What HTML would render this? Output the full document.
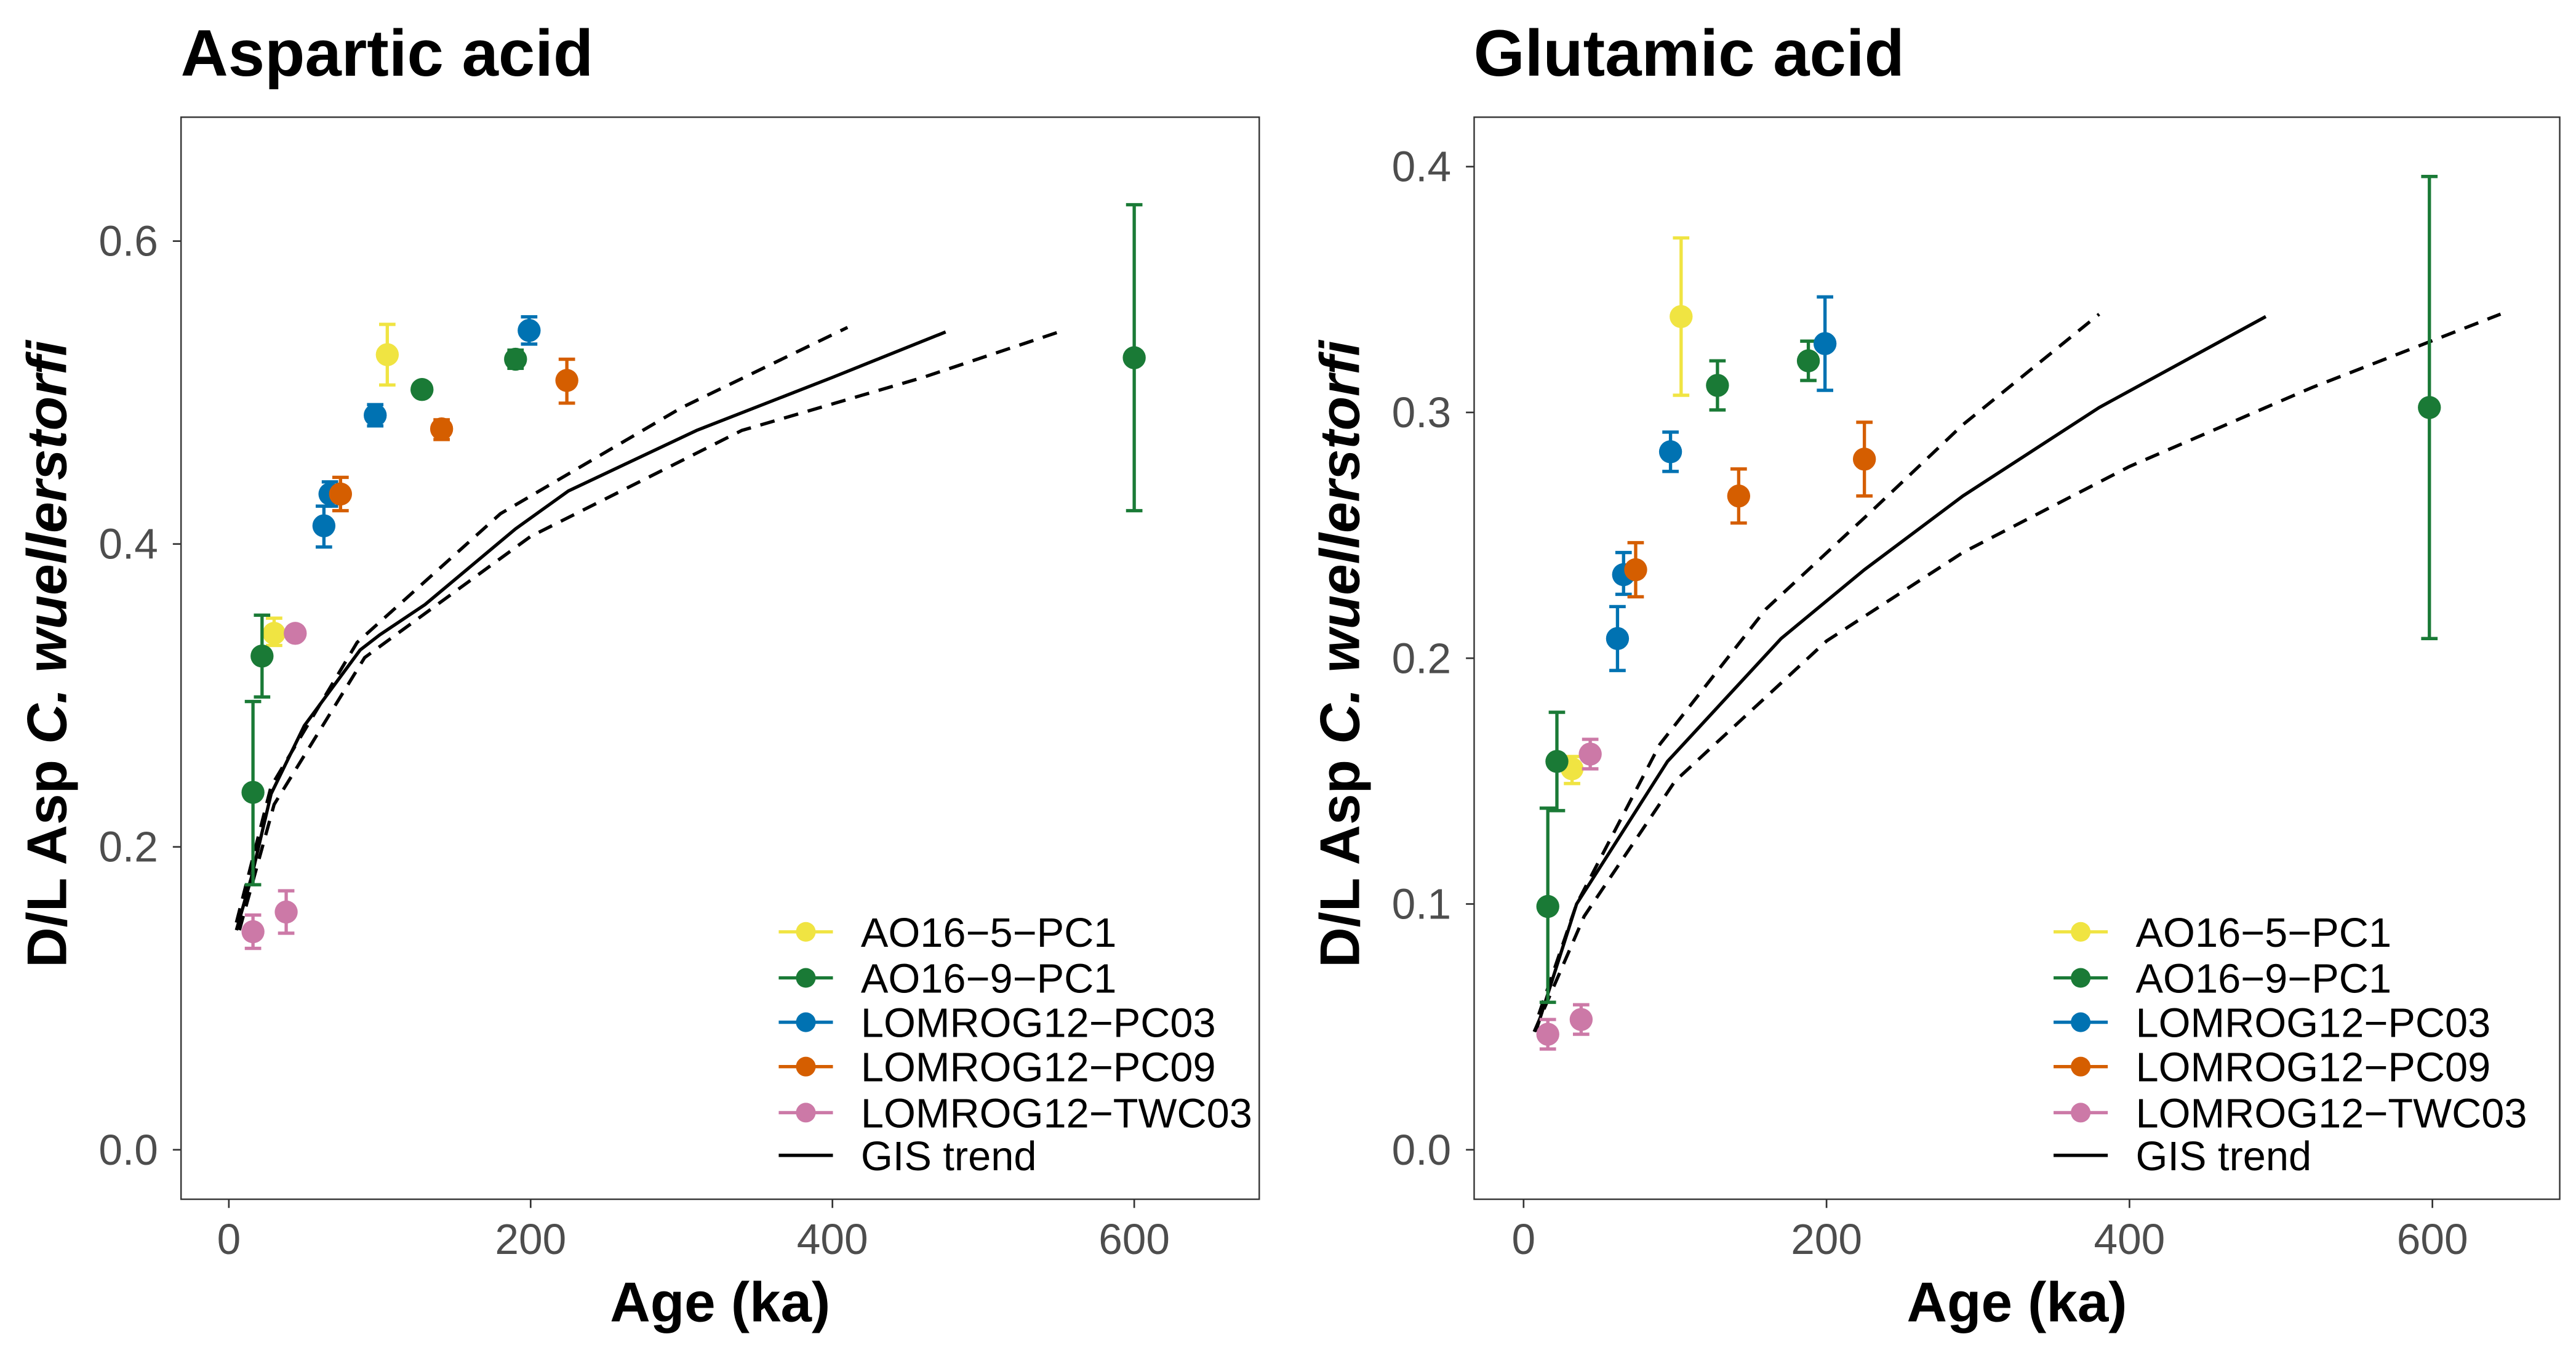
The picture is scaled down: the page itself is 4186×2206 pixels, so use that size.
<!DOCTYPE html>
<html><head><meta charset="utf-8"><style>
html,body{margin:0;padding:0;background:#fff;}
svg{display:block;font-family:"Liberation Sans",Arial,sans-serif;}
</style></head><body>
<svg id="fig" width="4186" height="2206" viewBox="0 0 1568 826.3" preserveAspectRatio="none" xmlns="http://www.w3.org/2000/svg"></svg>
<script>
// ---------- data: Aspartic acid ----------
const seriesNames = ["AO16-5-PC1","AO16-9-PC1","LOMROG12-PC03","LOMROG12-PC09","LOMROG12-TWC03"];
const seriesColors = ["#F0E442","#1A7A36","#0072B2","#D55E00","#CC79A7"];
const xTicks = [0,200,400,600];
const aspYTicks = [0.0,0.2,0.4,0.6];
const aspYTickLabels = ["0.0","0.2","0.4","0.6"];
const gluYTicks = [0.0,0.1,0.2,0.3,0.4];
const gluYTickLabels = ["0.0","0.1","0.2","0.3","0.4"];
// [age, value, low, high]
const aspYellow = [[30,0.341,0.333,0.351],[105,0.525,0.505,0.545]];
const aspGreen = [[16,0.236,0.175,0.296],[22,0.326,0.299,0.353],[128,0.502,0.498,0.506],[190,0.522,0.516,0.528],[600,0.523,0.422,0.624]];
const aspBlue = [[63,0.412,0.398,0.425],[67,0.433,0.425,0.441],[97,0.485,0.478,0.492],[199,0.541,0.532,0.550]];
const aspOrange = [[74,0.433,0.422,0.444],[141,0.476,0.469,0.482],[224,0.508,0.493,0.522]];
const aspPink = [[16,0.144,0.133,0.155],[38,0.157,0.143,0.171],[44,0.341,0.341,0.341]];
const aspTrend = [[5,0.145],[15,0.18],[28,0.235],[50,0.28],[87,0.33],[100,0.34],[130,0.36],[190,0.41],[225,0.435],[310,0.475],[400,0.51],[475,0.54]];
const aspUpper = [[5,0.15],[28,0.24],[85,0.335],[180,0.42],[300,0.49],[410,0.543]];
const aspLower = [[7,0.145],[30,0.228],[90,0.325],[200,0.405],[340,0.475],[460,0.51],[550,0.54]];
// ---------- data: Glutamic acid ----------
const gluYellow = [[32,0.155,0.149,0.160],[104,0.339,0.307,0.371]];
const gluGreen = [[16,0.099,0.060,0.139],[22,0.158,0.138,0.178],[128,0.311,0.301,0.321],[188,0.321,0.313,0.329],[598,0.302,0.208,0.396]];
const gluBlue = [[62,0.208,0.195,0.221],[66,0.234,0.226,0.243],[97,0.284,0.276,0.292],[199,0.328,0.309,0.347]];
const gluOrange = [[74,0.236,0.225,0.247],[142,0.266,0.255,0.277],[225,0.281,0.266,0.296]];
const gluPink = [[16,0.047,0.041,0.053],[38,0.053,0.047,0.059],[44,0.161,0.155,0.167]];
const gluTrend = [[8,0.048],[35,0.1],[95,0.158],[170,0.208],[225,0.236],[290,0.266],[380,0.302],[490,0.339]];
const gluUpper = [[10,0.055],[35,0.1],[90,0.165],[160,0.22],[230,0.26],[290,0.295],[380,0.34]];
const gluLower = [[7,0.048],[40,0.095],[100,0.15],[200,0.207],[290,0.243],[400,0.278],[520,0.31],[645,0.34]];

const NS="http://www.w3.org/2000/svg";
const svg=document.getElementById('fig');
function mk(tag,attrs,parent){const e=document.createElementNS(NS,tag);for(const k in attrs)e.setAttribute(k,attrs[k]);(parent||svg).appendChild(e);return e;}

function panel(cfg){
  const g=mk('g',{});
  
  
  const X=v=>cfg.x0+(v)*cfg.xPer;
  const Y=v=>cfg.y0-(v)*cfg.yPer;
  const t=mk('text',{x:cfg.titleX,y:46,'font-size':40,'font-weight':'bold',fill:'#000'},g);
  t.textContent=cfg.title;
  
  
  const box=mk('rect',{x:cfg.bx0,y:71.3,width:cfg.bx1-cfg.bx0,height:658.4,fill:'none',stroke:'#333','stroke-width':0.9},g);
  
  
  xTicks.forEach(v=>{
    mk('line',{x1:X(v),x2:X(v),y1:729.7,y2:735,stroke:'#333','stroke-width':1},g);
    const l=mk('text',{x:X(v),y:763,'font-size':26,fill:'#4d4d4d','text-anchor':'middle'},g);
    l.textContent=v;
    
    
  });
  cfg.yTicks.forEach((v,i)=>{
    mk('line',{x1:cfg.bx0-5,x2:cfg.bx0,y1:Y(v),y2:Y(v),stroke:'#333','stroke-width':1},g);
    const l=mk('text',{x:cfg.bx0-14,y:Y(v)+9,'font-size':26,fill:'#4d4d4d','text-anchor':'end'},g);
    l.textContent=cfg.yLabels[i];
    
    
  });
  const xt=mk('text',{x:(cfg.bx0+cfg.bx1)/2,y:804,'font-size':34,'font-weight':'bold','text-anchor':'middle'},g);
  xt.textContent='Age (ka)';
  
  
  const yt=mk('text',{x:0,y:0,'font-size':34,'font-weight':'bold','text-anchor':'middle',transform:`translate(${cfg.bx0-70},398) rotate(-90)`},g);
  yt.innerHTML='D/L Asp <tspan font-style="italic">C. wuellerstorfi</tspan>';
  
  
  const lineOf=(arr,dash,name)=>{
    const p=mk('polyline',{points:arr.map(d=>X(d[0])+','+Y(d[1])).join(' '),fill:'none',stroke:'#000','stroke-width':2,'stroke-dasharray':dash||'none'},g);
    
    
  };
  lineOf(cfg.lower,'9,6','gis-lower-bound');
  lineOf(cfg.upper,'9,6','gis-upper-bound');
  lineOf(cfg.trend,null,'gis-trend-line');
  cfg.series.forEach((arr,si)=>{
    const c=seriesColors[si];
    arr.forEach(d=>{
      const eg=mk('g',{},g);
      
      
      if(d[3]-d[2]>0.0001){
        mk('line',{x1:X(d[0]),x2:X(d[0]),y1:Y(d[2]),y2:Y(d[3]),stroke:c,'stroke-width':2},eg);
        mk('line',{x1:X(d[0])-5,x2:X(d[0])+5,y1:Y(d[2]),y2:Y(d[2]),stroke:c,'stroke-width':2},eg);
        mk('line',{x1:X(d[0])-5,x2:X(d[0])+5,y1:Y(d[3]),y2:Y(d[3]),stroke:c,'stroke-width':2},eg);
      }
      mk('circle',{cx:X(d[0]),cy:Y(d[1]),r:7,fill:c},eg);
    });
  });
  const lg=mk('g',{},g);
  
  
  const ly=[567,595,622,649,677,703];
  seriesNames.concat(['GIS trend']).forEach((n,i)=>{
    const eg=mk('g',{},lg);
    
    
    const c=i<5?seriesColors[i]:'#000';
    mk('line',{x1:cfg.legX,x2:cfg.legX+33,y1:ly[i],y2:ly[i],stroke:c,'stroke-width':2},eg);
    if(i<5) mk('circle',{cx:cfg.legX+16.5,cy:ly[i],r:6,fill:c},eg);
    const tx=mk('text',{x:cfg.legX+50,y:ly[i]+9,'font-size':25,fill:'#000'},eg);
    tx.textContent=n.replace(/-/g,'\u2212');
  });
}
panel({name:'aspartic-acid-panel',title:'Aspartic acid',titleX:110,bx0:110.2,bx1:766.5,x0:139.3,xPer:183.7/200,y0:699.6,yPer:184.3/0.2,
  yTicks:aspYTicks,yLabels:aspYTickLabels,series:[aspYellow,aspGreen,aspBlue,aspOrange,aspPink],trend:aspTrend,upper:aspUpper,lower:aspLower,legX:474});
panel({name:'glutamic-acid-panel',title:'Glutamic acid',titleX:897,bx0:897.3,bx1:1558.1,x0:927.4,xPer:184.4/200,y0:699.6,yPer:149.55/0.1,
  yTicks:gluYTicks,yLabels:gluYTickLabels,series:[gluYellow,gluGreen,gluBlue,gluOrange,gluPink],trend:gluTrend,upper:gluUpper,lower:gluLower,legX:1250});
</script>
</body></html>
